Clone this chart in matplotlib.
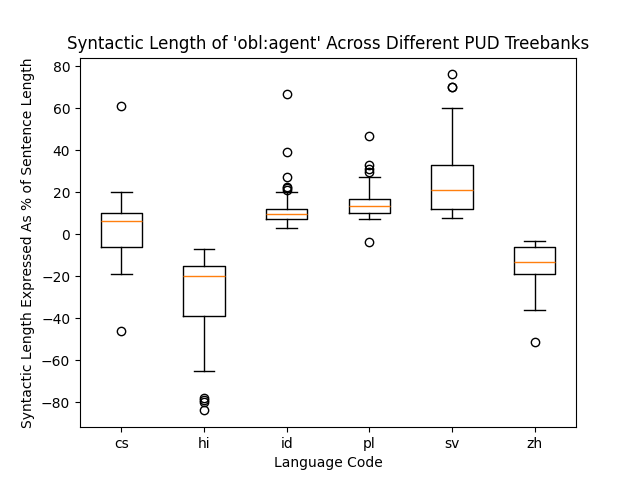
import matplotlib
matplotlib.use("Agg")
from matplotlib import pyplot as plt

# language codes and box statistics
langs = ["cs", "hi", "id", "pl", "sv", "zh"]
whislo = [-19, -65, 3, 7, 7.5, -36]
q1 = [-6, -39, 7, 10, 12, -19]
med = [6, -20, 9.5, 13.5, 21, -13.5]
q3 = [10, -15, 12, 16.5, 33, -6]
whishi = [20, -7, 20, 27, 60, -3.5]
fliers = [
    [61, -46],
    [-78, -79, -80, -84],
    [66.5, 39, 27, 22.5, 22, 21],
    [46.5, 33, 31, 29.5, -4],
    [76, 70, 70],
    [-51.5],
]

stats = []
for i, lang in enumerate(langs):
    stats.append({"label": lang, "whislo": whislo[i], "q1": q1[i], "med": med[i],
                  "q3": q3[i], "whishi": whishi[i], "fliers": fliers[i]})

fig, ax = plt.subplots(figsize=(6.4, 4.8), dpi=100)
ax.bxp(stats)
ax.set_title("Syntactic Length of 'obl:agent' Across Different PUD Treebanks")
ax.set_xlabel("Language Code")
ax.set_ylabel("Syntactic Length Expressed As % of Sentence Length")
plt.savefig("out.png")
